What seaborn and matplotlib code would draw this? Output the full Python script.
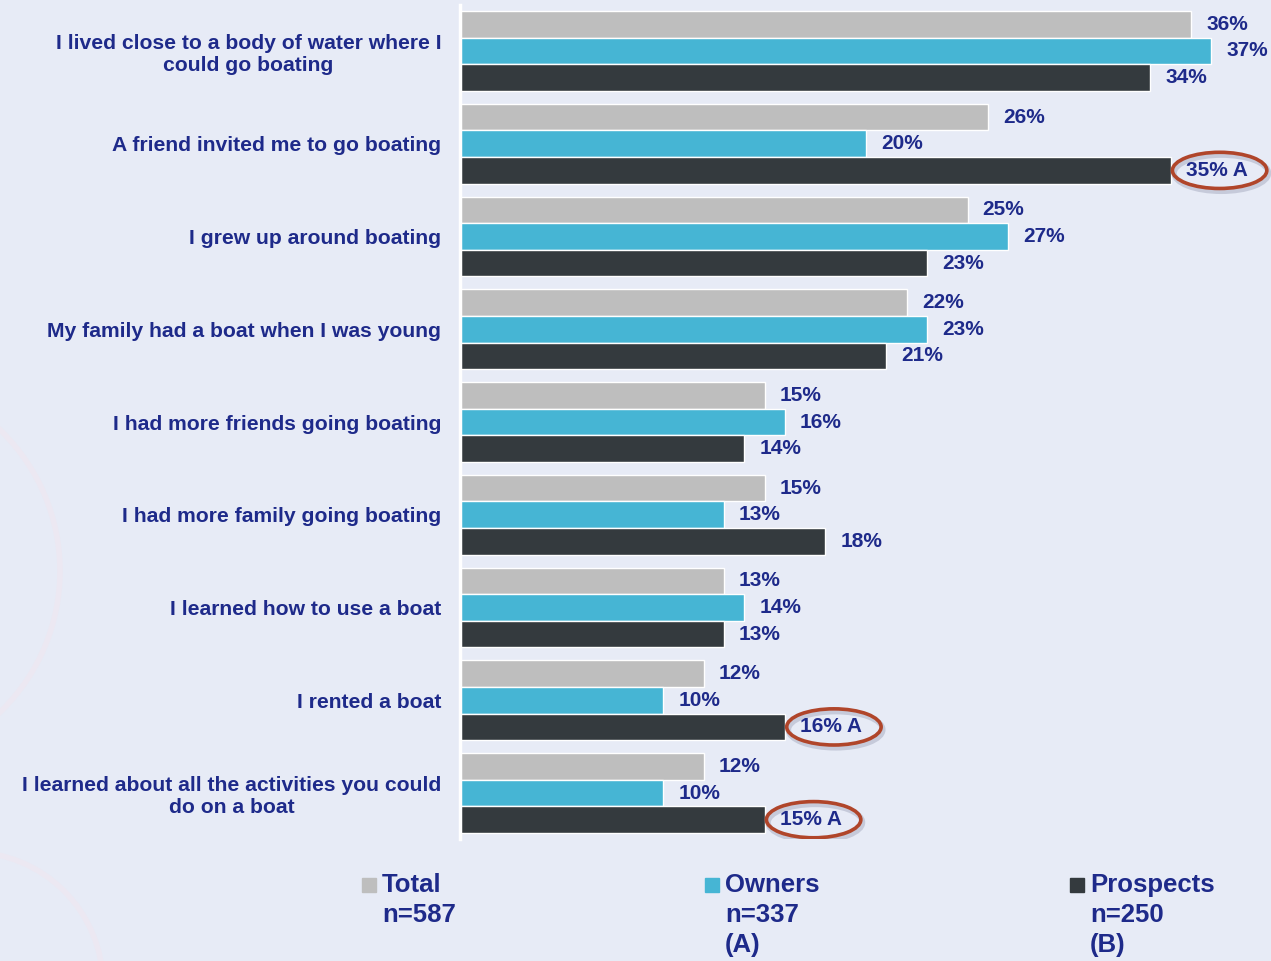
import numpy as np
import pandas as pd
import seaborn as sns
import matplotlib
matplotlib.use("Agg")
import matplotlib.pyplot as plt
from matplotlib.patches import Ellipse, Circle

# Survey reasons and shares (%) by group
reasons = [
    "I lived close to a body of water where I\ncould go boating",
    "A friend invited me to go boating",
    "I grew up around boating",
    "My family had a boat when I was young",
    "I had more friends going boating",
    "I had more family going boating",
    "I learned how to use a boat",
    "I rented a boat",
    "I learned about all the activities you could\ndo on a boat",
]
total = [36, 26, 25, 22, 15, 15, 13, 12, 12]
owners = [37, 20, 27, 23, 16, 13, 14, 10, 10]
prospects = [34, 35, 23, 21, 14, 18, 13, 16, 15]
# Significance letters (prospects vs owners)
prospect_sig = ["", "A", "", "", "", "", "", "A", "A"]

groups = ["Total", "Owners", "Prospects"]
group_n = ["n=587", "n=337\n(A)", "n=250\n(B)"]
colors = ["#BEBEBE", "#46B5D4", "#343A3E"]

NAVY = "#1E2A8A"
BG = "#E7EBF6"

df = pd.DataFrame({
    "reason": reasons * 3,
    "group": [g for g in groups for _ in reasons],
    "value": total + owners + prospects,
})

sns.set_theme(style="white")
plt.rcParams["font.family"] = ["Liberation Sans", "DejaVu Sans"]

fig = plt.figure(figsize=(12.71, 9.61), dpi=100, facecolor=BG)

# faint decorative rings in the background
bg_ax = fig.add_axes([0, 0, 1, 1], zorder=-5)
bg_ax.set_xlim(0, 1271)
bg_ax.set_ylim(961, 0)
bg_ax.set_aspect("equal")
bg_ax.axis("off")
bg_ax.add_patch(Circle((-136, 571), 196, fill=False, edgecolor="#ECE8F2", lw=4))
bg_ax.add_patch(Circle((-30, 985), 133, fill=False, edgecolor="#ECE8F2", lw=4))

ax = fig.add_axes([460 / 1271, 1 - 839.4 / 961, 1 - 460 / 1271, 834.8 / 961])
ax.set_facecolor("none")

sns.barplot(data=df, y="reason", x="value", hue="group", hue_order=groups,
            palette=colors, orient="h", width=0.862, saturation=1,
            edgecolor="white", linewidth=1, ax=ax, legend=False)

ax.set_xlim(0, 811 / 20.3)
ax.set_ylim(8.5, -0.5)
ax.set_xlabel("")
ax.set_ylabel("")
ax.set_xticks([])
for s in ["top", "right", "bottom"]:
    ax.spines[s].set_visible(False)
ax.spines["left"].set_color("white")
ax.spines["left"].set_linewidth(2.5)
ax.tick_params(axis="y", length=0, pad=13.5)
for lab in ax.get_yticklabels():
    lab.set_fontsize(15.2)
    lab.set_fontweight("bold")
    lab.set_color(NAVY)
    lab.set_multialignment("center")

# value labels, with ringed significance letters
off = 0.75
for ci, cont in enumerate(ax.containers):
    for bi, bar in enumerate(cont):
        v = bar.get_width()
        yc = bar.get_y() + bar.get_height() / 2
        txt = f"{v:.0f}%"
        if ci == 2 and prospect_sig[bi]:
            txt += " " + prospect_sig[bi]
            shadow = Ellipse((v + 2.5, yc + 0.03), 4.65, 0.39, fill=False,
                             edgecolor="#8A8FA8", alpha=0.35, lw=4, zorder=4)
            ax.add_patch(shadow)
            ell = Ellipse((v + 2.42, yc), 4.65, 0.39, fill=False,
                          edgecolor="#B0452A", lw=2.6, zorder=5)
            ax.add_patch(ell)
        ax.text(v + off, yc, txt, va="center", ha="left", fontsize=15,
                fontweight="bold", color=NAVY, zorder=6)

# legend across the bottom
leg_x = [362, 705, 1070]
for h_x, g, n, c in zip(leg_x, groups, group_n, colors):
    fig.patches.append(plt.Rectangle((h_x / 1271, 1 - 892 / 961), 14 / 1271,
                                     14 / 961, transform=fig.transFigure,
                                     color=c, figure=fig))
    fig.text((h_x + 20) / 1271, 1 - 885 / 961, g, ha="left", va="center",
             fontsize=18.5, fontweight="bold", color=NAVY)
    fig.text((h_x + 20) / 1271, 1 - 903 / 961, n, ha="left", va="top",
             fontsize=18.5, fontweight="bold", color=NAVY, linespacing=1.3)

fig.savefig("out.png", dpi=100, facecolor=BG)
